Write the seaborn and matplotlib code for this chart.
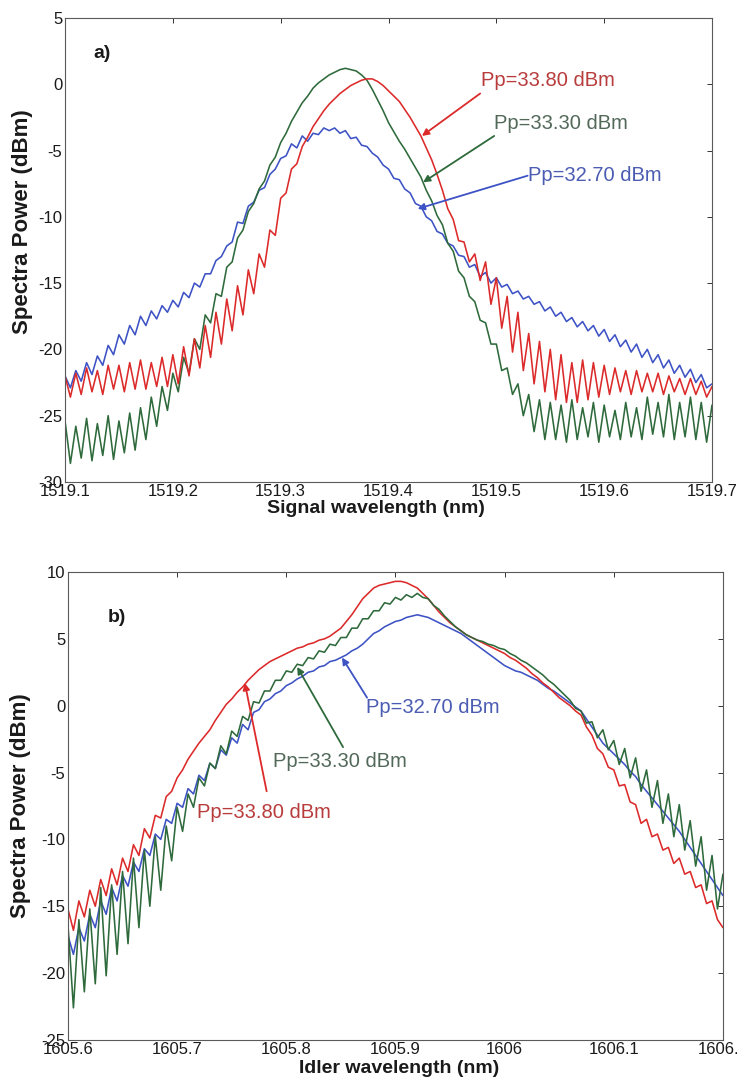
import numpy as np
import pandas as pd
import matplotlib
matplotlib.use("Agg")
import matplotlib.pyplot as plt
import seaborn as sns

# ---------------- data ----------------
signal_start, signal_stop = 1519.1, 1519.7
idler_start, idler_stop = 1605.6, 1606.2
n_samples = 121

signal_pp33_80 = [
    -22.0, -23.6, -21.8, -23.4, -21.4, -23.2, -21.6, -23.4, -21.2, -23.0,
    -21.2, -23.2, -21.0, -23.0, -20.8, -23.0, -21.0, -22.8, -20.6, -22.8,
    -20.4, -22.6, -19.8, -22.0, -19.2, -21.4, -18.2, -20.6, -17.2, -19.6,
    -16.2, -18.6, -15.2, -17.4, -14.0, -15.8, -12.8, -13.8, -11.0, -11.4,
    -8.6, -8.2, -6.4, -6.0, -4.7, -4.0, -3.2, -2.6, -2.0, -1.5,
    -1.1, -0.7, -0.4, -0.1, 0.1, 0.3, 0.4, 0.4, 0.2, -0.1,
    -0.5, -0.9, -1.3, -1.9, -2.5, -3.2, -3.9, -4.8, -5.7, -6.8,
    -8.0, -9.4, -10.2, -11.8, -11.9, -13.4, -12.8, -14.8, -13.4, -16.6,
    -14.6, -18.4, -16.0, -20.2, -17.2, -21.6, -18.8, -22.6, -19.4, -23.2,
    -20.0, -23.8, -20.4, -24.0, -21.0, -24.0, -20.8, -23.8, -21.0, -23.6,
    -21.2, -23.4, -21.4, -23.2, -21.6, -23.4, -21.6, -23.2, -21.8, -23.2,
    -21.8, -23.4, -22.0, -23.2, -22.2, -23.4, -22.2, -23.4, -22.4, -23.6,
    -22.8]

signal_pp33_30 = [
    -25.4, -28.6, -25.8, -28.2, -25.2, -28.4, -25.6, -28.0, -25.0, -28.3,
    -25.4, -27.8, -24.8, -27.6, -24.4, -26.8, -23.6, -25.8, -22.8, -24.6,
    -21.8, -23.2, -20.6, -21.8, -19.2, -20.0, -17.4, -18.0, -15.8, -16.0,
    -13.8, -13.4, -11.6, -11.0, -9.6, -9.0, -7.9, -7.3, -6.1, -5.5,
    -4.4, -3.7, -2.8, -2.1, -1.4, -0.9, -0.3, 0.1, 0.4, 0.7,
    0.9, 1.1, 1.2, 1.1, 1.0, 0.7, 0.3, -0.4, -1.2, -2.0,
    -2.9, -3.6, -4.3, -4.9, -5.6, -6.3, -7.0, -8.0, -8.8, -9.9,
    -10.6, -12.0, -12.6, -14.1, -14.6, -16.0, -16.4, -17.8, -18.0, -19.6,
    -19.6, -21.6, -21.4, -23.4, -22.6, -25.0, -23.4, -26.2, -23.8, -26.8,
    -24.0, -26.8, -24.2, -27.0, -23.8, -26.8, -24.4, -26.6, -24.0, -27.0,
    -24.2, -26.6, -24.6, -26.8, -24.0, -26.6, -24.4, -26.8, -23.6, -26.4,
    -24.0, -26.6, -23.4, -26.8, -24.0, -26.6, -23.6, -26.8, -24.0, -27.0,
    -24.2]

signal_pp32_70 = [
    -22.0, -22.9, -21.6, -22.4, -21.0, -21.9, -20.5, -21.2, -19.7, -20.4,
    -18.9, -19.6, -18.2, -18.9, -17.5, -18.2, -17.1, -17.7, -16.7, -17.2,
    -16.3, -16.8, -15.7, -16.1, -15.0, -15.3, -14.3, -14.3, -13.3, -13.0,
    -12.2, -11.9, -10.4, -10.5, -9.2, -8.9, -8.0, -7.8, -6.8, -6.4,
    -5.6, -5.4, -4.5, -4.8, -3.9, -4.3, -3.7, -3.8, -3.3, -3.5,
    -3.3, -3.7, -3.5, -4.1, -4.0, -4.6, -4.7, -5.2, -5.5, -6.1,
    -6.4, -7.1, -7.2, -7.9, -8.2, -9.0, -9.2, -10.0, -10.3, -11.1,
    -11.3, -12.0, -12.2, -12.9, -13.0, -13.8, -13.6, -14.5, -14.2, -15.0,
    -14.6, -15.3, -15.1, -15.8, -15.6, -16.2, -16.0, -16.6, -16.4, -17.1,
    -16.8, -17.5, -17.2, -17.9, -17.6, -18.3, -17.9, -18.6, -18.2, -19.0,
    -18.5, -19.4, -18.9, -19.8, -19.3, -20.2, -19.6, -20.6, -20.0, -21.0,
    -20.4, -21.4, -20.8, -21.8, -21.2, -22.1, -21.5, -22.5, -21.9, -22.9,
    -22.6]

idler_pp33_80 = [
    -15.2, -16.8, -14.6, -15.8, -13.8, -15.0, -13.0, -14.2, -12.2, -13.4,
    -11.4, -12.4, -10.4, -11.2, -9.2, -9.9, -8.2, -8.4, -6.8, -6.4,
    -5.4, -4.8, -4.0, -3.4, -2.8, -2.3, -1.8, -1.1, -0.5, 0.1,
    0.5, 1.0, 1.4, 1.9, 2.3, 2.7, 3.0, 3.3, 3.5, 3.7,
    3.9, 4.1, 4.3, 4.4, 4.6, 4.7, 4.9, 5.0, 5.2, 5.5,
    5.8, 6.3, 6.8, 7.4, 8.0, 8.4, 8.8, 9.0, 9.1, 9.2,
    9.3, 9.3, 9.2, 9.0, 8.8, 8.4, 8.0, 7.5, 7.0, 6.6,
    6.2, 5.9, 5.6, 5.3, 5.1, 4.9, 4.7, 4.5, 4.3, 4.1,
    3.9, 3.6, 3.4, 3.1, 2.8, 2.4, 2.1, 1.7, 1.4, 1.0,
    0.6, 0.3, 0.0, -0.4, -0.7, -1.6, -2.2, -3.2, -3.6, -4.6,
    -4.8, -6.0, -5.9, -7.2, -7.4, -8.8, -8.5, -9.8, -9.6, -10.8,
    -10.6, -11.8, -11.4, -12.6, -12.4, -13.6, -13.4, -14.8, -14.6, -16.0,
    -16.6]

idler_pp33_30 = [
    -16.4, -22.6, -16.0, -21.4, -15.2, -20.8, -13.6, -20.2, -13.4, -18.6,
    -12.4, -17.8, -11.4, -16.6, -10.8, -15.0, -9.8, -13.8, -9.0, -11.6,
    -7.6, -9.4, -6.6, -7.6, -5.4, -6.0, -4.3, -4.7, -3.0, -3.6,
    -1.9, -2.3, -0.8, -1.1, 0.3, 0.2, 1.1, 1.1, 1.9, 1.9,
    2.6, 2.5, 3.1, 3.0, 3.6, 3.5, 4.1, 4.0, 4.6, 4.5,
    5.1, 5.1, 5.8, 5.8, 6.5, 6.5, 7.1, 7.1, 7.7, 7.6,
    8.1, 7.9, 8.3, 8.1, 8.4, 8.1, 8.0, 7.5, 7.2, 6.7,
    6.3, 5.9, 5.6, 5.3, 5.1, 4.9, 4.8, 4.6, 4.5, 4.3,
    4.2, 3.9, 3.7, 3.4, 3.2, 2.9, 2.6, 2.3, 1.9, 1.6,
    1.2, 0.8, 0.4, -0.2, -0.4, -1.3, -1.2, -2.4, -1.8, -3.3,
    -2.6, -4.4, -3.2, -5.4, -3.9, -6.4, -4.8, -7.6, -5.6, -8.8,
    -6.6, -9.8, -7.4, -10.8, -8.6, -12.0, -9.8, -13.8, -11.2, -15.2,
    -12.6]

idler_pp32_70 = [
    -17.2, -18.6, -16.6, -17.6, -15.6, -16.6, -14.6, -15.6, -13.6, -14.6,
    -12.7, -13.5, -11.7, -12.4, -10.7, -11.2, -9.6, -10.0, -8.5, -8.8,
    -7.3, -7.6, -6.2, -6.6, -5.2, -5.6, -4.3, -4.7, -3.3, -3.7,
    -2.4, -2.8, -1.4, -1.8, -0.5, -0.3, 0.3, 0.5, 0.9, 1.1,
    1.5, 1.7, 2.0, 2.2, 2.5, 2.6, 2.9, 3.0, 3.3, 3.4,
    3.6, 3.8, 4.1, 4.3, 4.6, 5.0, 5.4, 5.6, 5.9, 6.1,
    6.3, 6.4, 6.6, 6.7, 6.8, 6.7, 6.6, 6.4, 6.2, 6.0,
    5.8, 5.6, 5.4, 5.1, 4.8, 4.5, 4.2, 3.9, 3.6, 3.3,
    3.0, 2.8, 2.6, 2.5, 2.3, 2.1, 1.9, 1.6, 1.3, 1.1,
    0.8, 0.5, 0.2, -0.1, -0.4, -1.0, -1.6, -2.2, -2.8, -3.2,
    -3.6, -4.0, -4.4, -4.9, -5.3, -5.9, -6.4, -6.9, -7.4, -7.9,
    -8.4, -8.9, -9.4, -10.0, -10.6, -11.2, -11.8, -12.4, -13.0, -13.6,
    -14.2]

series_labels = ["Pp=33.80 dBm", "Pp=33.30 dBm", "Pp=32.70 dBm"]
signal_xticks = [1519.1, 1519.2, 1519.3, 1519.4, 1519.5, 1519.6, 1519.7]
signal_xticklabels = ["1519.1", "1519.2", "1519.3", "1519.4", "1519.5", "1519.6", "1519.7"]
signal_yticks = [5, 0, -5, -10, -15, -20, -25, -30]
idler_xticks = [1605.6, 1605.7, 1605.8, 1605.9, 1606.0, 1606.1, 1606.2]
idler_xticklabels = ["1605.6", "1605.7", "1605.8", "1605.9", "1606", "1606.1", "1606.2"]
idler_yticks = [10, 5, 0, -5, -10, -15, -20, -25]

# ---------------- style ----------------
sns.set_theme(style="white")
plt.rcParams["font.family"] = ["Liberation Sans", "DejaVu Sans"]
plt.rcParams["axes.unicode_minus"] = False

RED = "#dc2a2a"
GREEN = "#2e6a3b"
BLUE = "#3d52c4"
RED_T = "#b83c3c"
GREEN_T = "#52695a"
BLUE_T = "#4b5cb2"

fig = plt.figure(figsize=(7.38, 10.86), dpi=100)
fig.patch.set_facecolor("white")
ax1 = fig.add_axes([0.0881, 0.5562, 0.8767, 0.4273])
ax2 = fig.add_axes([0.0921, 0.0424, 0.8875, 0.4309])

signal_wl = np.linspace(signal_start, signal_stop, n_samples)
idler_wl = np.linspace(idler_start, idler_stop, n_samples)

df_sig = pd.DataFrame({"wl": signal_wl, "p80": signal_pp33_80,
                       "p30": signal_pp33_30, "p70": signal_pp32_70})
df_idl = pd.DataFrame({"wl": idler_wl, "p80": idler_pp33_80,
                       "p30": idler_pp33_30, "p70": idler_pp32_70})

lw = 1.15
# top: blue, green, red (red on top)
sns.lineplot(data=df_sig, x="wl", y="p70", ax=ax1, color=BLUE, linewidth=lw, estimator=None, sort=False)
sns.lineplot(data=df_sig, x="wl", y="p30", ax=ax1, color=GREEN, linewidth=lw, estimator=None, sort=False)
sns.lineplot(data=df_sig, x="wl", y="p80", ax=ax1, color=RED, linewidth=lw, estimator=None, sort=False)
# bottom: blue, red, green (green on top)
sns.lineplot(data=df_idl, x="wl", y="p70", ax=ax2, color=BLUE, linewidth=lw, estimator=None, sort=False)
sns.lineplot(data=df_idl, x="wl", y="p80", ax=ax2, color=RED, linewidth=lw, estimator=None, sort=False)
sns.lineplot(data=df_idl, x="wl", y="p30", ax=ax2, color=GREEN, linewidth=lw, estimator=None, sort=False)


def style_axes(ax, xlim, ylim, xt, xtl, yt, xlabel, xlab_coords, ylab_coords):
    ax.set_xlim(*xlim)
    ax.set_ylim(*ylim)
    ax.set_xticks(xt)
    ax.set_xticklabels(xtl)
    ax.set_yticks(yt)
    ax.set_yticklabels([str(v) for v in yt])
    ax.tick_params(axis="both", which="both", direction="in", length=3.5, width=0.7,
                   top=True, right=True, labelsize=12, colors="#333333", labelcolor="#1a1a1a")
    ax.tick_params(axis="x", pad=1.5)
    ax.tick_params(axis="y", pad=2)
    for s in ax.spines.values():
        s.set_visible(True)
        s.set_color("#5a5a5a")
        s.set_linewidth(0.8)
    ax.set_xlabel(xlabel, fontsize=14, fontweight="bold", color="#1a1a1a")
    ax.set_ylabel("Spectra Power (dBm)", fontsize=16, fontweight="bold", color="#1a1a1a")
    ax.xaxis.set_label_coords(*xlab_coords)
    ax.yaxis.set_label_coords(*ylab_coords)
    ax.xaxis.label.set_va("top")
    ax.yaxis.label.set_va("center")
    ax.set_facecolor("white")
    ax.grid(False)


style_axes(ax1, (signal_start, signal_stop), (-30, 5), signal_xticks, signal_xticklabels,
           signal_yticks, "Signal wavelength (nm)", (0.48, -0.038), (-0.066, 0.56))
style_axes(ax2, (idler_start, idler_stop), (-25, 10), idler_xticks, idler_xticklabels,
           idler_yticks, "Idler wavelength (nm)", (0.505, -0.042), (-0.072, 0.50))

# panel letters
ax1.text(1519.126, 2.3, "a)", fontsize=14, fontweight="bold", ha="left", va="center", color="#1a1a1a")
ax2.text(1605.636, 6.6, "b)", fontsize=14, fontweight="bold", ha="left", va="center", color="#1a1a1a")

ann_fs = 14.5
arrow_kw = dict(arrowstyle="-|>", lw=1.3, mutation_scale=10, shrinkA=0, shrinkB=0)

# top annotations
ax1.annotate("", xy=(1519.431, -3.9), xytext=(1519.485, -0.7), arrowprops=dict(color=RED, **arrow_kw))
ax1.text(1519.486, 0.3, series_labels[0], color=RED_T, fontsize=ann_fs, ha="left", va="center")
ax1.annotate("", xy=(1519.432, -7.4), xytext=(1519.498, -3.9), arrowprops=dict(color=GREEN, **arrow_kw))
ax1.text(1519.498, -3.0, series_labels[1], color=GREEN_T, fontsize=ann_fs, ha="left", va="center")
ax1.annotate("", xy=(1519.427, -9.4), xytext=(1519.529, -6.9), arrowprops=dict(color=BLUE, **arrow_kw))
ax1.text(1519.529, -6.9, series_labels[2], color=BLUE_T, fontsize=ann_fs, ha="left", va="center")

# bottom annotations
ax2.annotate("", xy=(1605.851, 3.6), xytext=(1605.874, 0.6), arrowprops=dict(color=BLUE, **arrow_kw))
ax2.text(1605.873, -0.1, series_labels[2], color=BLUE_T, fontsize=ann_fs, ha="left", va="center")
ax2.annotate("", xy=(1605.81, 2.9), xytext=(1605.852, -3.1), arrowprops=dict(color=GREEN, **arrow_kw))
ax2.text(1605.788, -4.2, series_labels[1], color=GREEN_T, fontsize=ann_fs, ha="left", va="center")
ax2.annotate("", xy=(1605.762, 1.7), xytext=(1605.782, -6.4), arrowprops=dict(color=RED, **arrow_kw))
ax2.text(1605.718, -8.0, series_labels[0], color=RED_T, fontsize=ann_fs, ha="left", va="center")

fig.savefig("out.png", dpi=100, facecolor="white")
